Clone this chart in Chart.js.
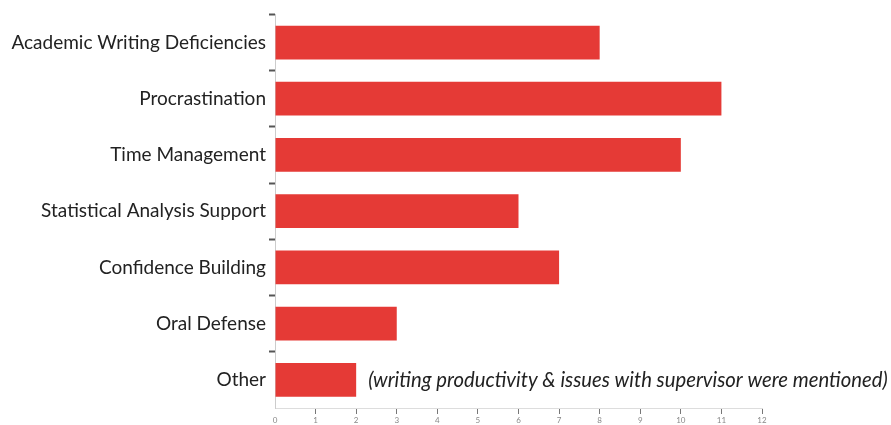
<!DOCTYPE html>
<html>
<head>
<meta charset="utf-8">
<script src="https://cdn.jsdelivr.net/npm/chart.js@4/dist/chart.umd.min.js"></script>
<style>
  html, body { margin: 0; padding: 0; background: #fff; }
  #wrap { width: 891px; height: 425px; position: relative; }
</style>
</head>
<body>
<div id="wrap"><canvas id="chart"></canvas></div>
<script>
const categories = [
  'Academic Writing Deficiencies',
  'Procrastination',
  'Time Management',
  'Statistical Analysis Support',
  'Confidence Building',
  'Oral Defense',
  'Other'
];
const counts = [8, 11, 10, 6, 7, 3, 2];
const xTicks = [0, 1, 2, 3, 4, 5, 6, 7, 8, 9, 10, 11, 12];
const otherNote = '(writing productivity & issues with supervisor were mentioned)';

// catatan miring di samping batang "Other"
const notePlugin = {
  id: 'note',
  afterDatasetsDraw(chart) {
    const meta = chart.getDatasetMeta(0);
    const bar = meta.data[categories.indexOf('Other')];
    if (!bar) return;
    const ctx = chart.ctx;
    ctx.save();
    ctx.font = 'italic 20.3px Lato';
    ctx.fillStyle = '#222';
    ctx.textBaseline = 'middle';
    ctx.fillText(otherNote, bar.x + 12, bar.y + 1);
    ctx.restore();
  }
};

new Chart(document.getElementById('chart'), {
  type: 'bar',
  data: {
    labels: categories,
    datasets: [{
      data: counts,
      backgroundColor: '#e53a36',
      borderWidth: 0,
      barPercentage: 0.6,
      categoryPercentage: 1
    }]
  },
  options: {
    indexAxis: 'y',
    responsive: true,
    maintainAspectRatio: false,
    animation: false,
    layout: { padding: { top: 11, right: 129, bottom: 0, left: 0 } },
    plugins: { legend: { display: false }, tooltip: { enabled: false } },
    scales: {
      x: {
        min: 0, max: 12,
        afterBuildTicks: s => { s.ticks = xTicks.map(v => ({ value: v })); },
        afterFit: s => { s.height = 17; },
        grid: {
          drawOnChartArea: false, drawTicks: true, tickLength: 6, tickWidth: 1,
          tickColor: c => c.index === 0 ? 'rgba(0,0,0,0)' : '#777'
        },
        border: { color: '#ddd', width: 1 },
        ticks: { color: '#888', font: { family: 'Lato', size: 8 }, padding: 2 }
      },
      y: {
        afterFit: s => { s.width = 275; },
        grid: {
          drawOnChartArea: false, drawTicks: true, tickLength: 6, tickWidth: 2, offset: true,
          // garis bawah (setelah "Other") tidak punya tanda
          tickColor: c => c.type === 'tick' ? '#555' : 'rgba(0,0,0,0)'
        },
        border: { color: '#ccc', width: 1 },
        ticks: { color: '#222', font: { family: 'Lato', size: 19 }, padding: 3 }
      }
    }
  },
  plugins: [notePlugin]
});
</script>
</body>
</html>
